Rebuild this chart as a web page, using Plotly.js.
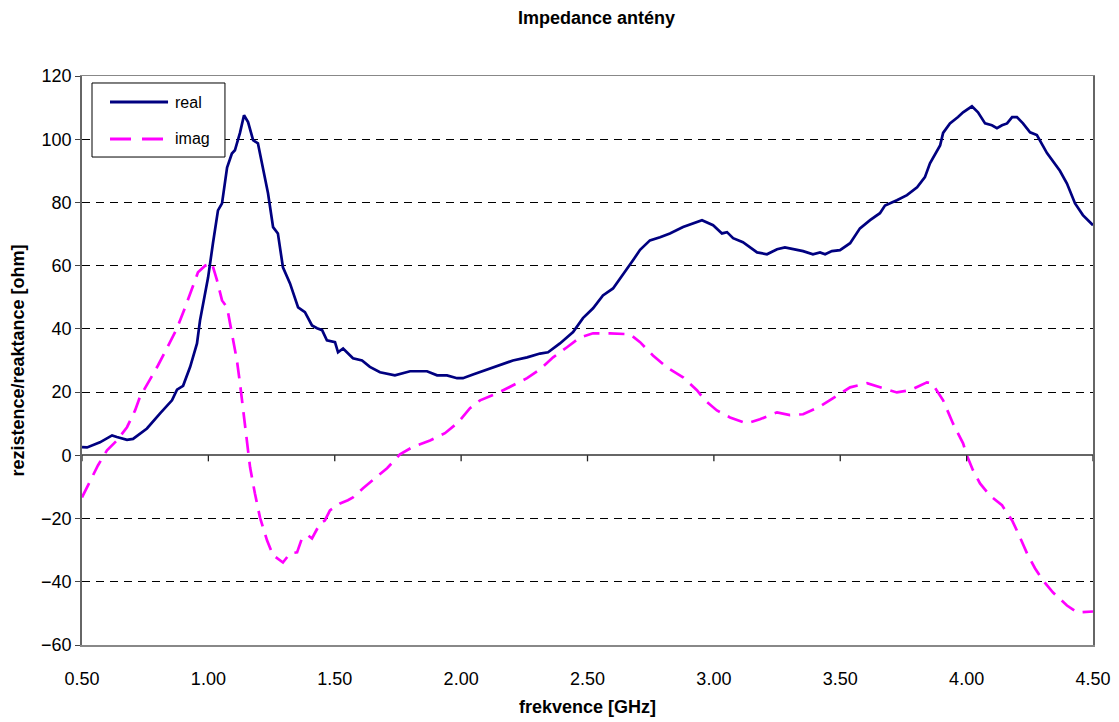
<!DOCTYPE html>
<html>
<head>
<meta charset="utf-8">
<script src="https://cdn.plot.ly/plotly-3.0.1.min.js"></script>
<style>html,body{margin:0;padding:0;background:#fff;}#chart{width:1119px;height:722px;}</style>
</head>
<body>
<div id="chart"></div>
<script>
// Frequency [GHz] and resistance (real part) [ohm]
const freqReal = [0.500,0.520,0.571,0.619,0.638,0.678,0.702,0.757,0.809,0.856,0.876,0.900,0.928,0.955,0.967,
  0.999,1.018,1.038,1.054,1.074,1.093,1.105,1.125,1.141,1.157,1.177,1.196,1.212,1.236,1.256,1.275,1.295,1.323,
  1.355,1.382,1.410,1.430,1.450,1.469,1.501,1.513,1.533,1.572,1.608,1.639,1.679,1.738,1.798,1.865,1.905,1.944,
  1.984,2.007,2.047,2.102,2.154,2.205,2.261,2.312,2.344,2.391,2.443,2.482,2.522,2.561,2.601,2.640,2.680,2.708,
  2.747,2.787,2.826,2.878,2.917,2.953,2.997,3.032,3.052,3.076,3.115,3.171,3.210,3.250,3.281,3.313,3.353,3.392,
  3.420,3.440,3.467,3.499,3.539,3.578,3.618,3.657,3.677,3.724,3.764,3.804,3.835,3.855,3.895,3.907,3.934,3.966,
  3.986,4.021,4.045,4.073,4.100,4.120,4.140,4.160,4.180,4.199,4.223,4.251,4.278,4.318,4.369,4.397,4.429,4.460,4.500];
const realPart = [2.6,2.5,4.1,6.3,5.8,4.9,5.2,8.5,13.3,17.4,20.8,22.0,28.0,35.4,42.7,
  56.3,67.0,77.5,79.7,91.0,95.5,96.5,102.0,107.6,105.4,99.7,98.7,92.4,82.9,72.2,70.2,59.5,54.4,
  46.8,45.3,41.1,40.2,39.6,36.4,35.8,32.6,33.8,30.7,30.0,28.0,26.3,25.3,26.6,26.6,25.3,25.3,
  24.4,24.4,25.6,27.2,28.5,30.0,31.0,32.2,32.6,35.4,39.0,43.4,46.5,50.6,52.8,57.0,61.7,65.0,
  68.0,69.0,70.2,72.2,73.4,74.4,72.8,70.2,70.6,68.7,67.4,64.2,63.6,65.2,65.8,65.2,64.6,63.6,
  64.2,63.6,64.6,64.9,67.1,71.8,74.4,76.6,79.0,80.7,82.3,84.8,88.0,92.4,98.0,102.0,105.0,107.0,
  108.5,110.4,108.5,105.0,104.4,103.5,104.4,105.0,107.0,107.0,105.0,102.2,101.3,95.6,90.0,86.0,79.7,76.0,72.8];

// Frequency [GHz] and reactance (imaginary part) [ohm]
const freqImag = [0.500,0.532,0.563,0.599,0.638,0.678,0.710,0.729,0.761,0.801,0.836,0.876,0.908,0.935,0.959,
  0.987,1.014,1.034,1.054,1.074,1.093,1.113,1.125,1.137,1.153,1.165,1.184,1.204,1.232,1.256,1.295,1.323,1.351,
  1.370,1.394,1.410,1.442,1.461,1.481,1.521,1.552,1.572,1.612,1.651,1.707,1.758,1.810,1.877,1.936,1.988,2.035,
  2.075,2.142,2.182,2.261,2.312,2.364,2.419,2.470,2.522,2.589,2.668,2.708,2.759,2.815,2.878,2.933,2.965,3.012,
  3.064,3.131,3.182,3.250,3.301,3.353,3.420,3.487,3.539,3.606,3.657,3.724,3.776,3.843,3.863,3.907,3.946,3.986,
  4.001,4.025,4.053,4.092,4.140,4.180,4.211,4.239,4.271,4.302,4.342,4.397,4.437,4.500];
const imagPart = [-13.3,-7.9,-3.2,1.6,4.7,8.9,14.2,18.4,22.8,28.5,33.9,40.2,46.8,52.8,57.9,
  60.0,60.8,55.4,49.0,46.8,38.6,30.0,22.8,14.2,3.8,-3.8,-12.0,-19.6,-26.9,-31.6,-33.9,-31.0,-30.7,
  -26.3,-25.3,-26.3,-21.5,-20.6,-17.4,-15.2,-14.2,-13.3,-10.4,-7.9,-4.1,0.3,2.7,4.7,7.0,10.4,14.9,
  17.4,19.6,21.2,24.4,27.2,31.0,34.2,37.3,38.6,38.6,38.3,35.8,31.6,27.8,24.7,20.6,17.4,14.2,
  12.0,10.1,11.4,13.6,12.7,13.0,15.5,19.0,21.5,22.8,21.5,19.9,20.6,23.1,22.8,17.4,10.1,3.8,
  0.0,-4.7,-8.9,-12.7,-15.8,-20.6,-25.9,-31.0,-35.8,-39.6,-43.4,-47.5,-49.7,-49.4];

const xTicks = [0.5,1.0,1.5,2.0,2.5,3.0,3.5,4.0,4.5];
const xTickText = ['0.50','1.00','1.50','2.00','2.50','3.00','3.50','4.00','4.50'];
const yTicks = [-60,-40,-20,0,20,40,60,80,100,120];
const yRange = [-60, 120];
const seriesNames = ['real','imag'];
const seriesColors = ['#000080', '#FF00FF'];
const seriesDash = ['solid', '16px,9px'];

const FONT = 'Arial, "Liberation Sans", Helvetica, sans-serif';
const PLOT_H = 722 - 76 - 77;

const traces = [
  {x: freqReal, y: realPart, name: seriesNames[0], type: 'scatter', mode: 'lines',
   line: {color: seriesColors[0], width: 2.7, dash: seriesDash[0]}},
  {x: freqImag, y: imagPart, name: seriesNames[1], type: 'scatter', mode: 'lines',
   line: {color: seriesColors[1], width: 2.7, dash: seriesDash[1]}}
];

// tick marks hanging below the zero line (Excel-style category axis crossing at 0)
const zeroFrac = (0 - yRange[0]) / (yRange[1] - yRange[0]);
const shapes = xTicks.map(t => ({
  type: 'line', xref: 'x', yref: 'paper',
  x0: t, x1: t, y0: zeroFrac, y1: zeroFrac - 6 / PLOT_H, line: {color: '#222', width: 1.3}, layer: 'above'
}));

// legend box (drawn by hand so its proportions match the original)
const legBox = {x0: 0.0099, x1: 0.1414, y0: 0.8576, y1: 0.9877};
const legRowsY = [0.9543, 0.8893];
shapes.push({type: 'rect', xref: 'paper', yref: 'paper', x0: legBox.x0, x1: legBox.x1, y0: legBox.y0, y1: legBox.y1,
  line: {color: '#000', width: 1}, fillcolor: '#ffffff', layer: 'above'});
const annotations = [];
seriesNames.forEach((name, i) => {
  shapes.push({type: 'line', xref: 'paper', yref: 'paper', x0: 0.0277, x1: 0.0851, y0: legRowsY[i], y1: legRowsY[i],
    line: {color: seriesColors[i], width: 3, dash: i === 0 ? 'solid' : '21px,11px'}, layer: 'above'});
  annotations.push({xref: 'paper', yref: 'paper', x: 0.0905, y: legRowsY[i], xanchor: 'left', yanchor: 'middle',
    text: name, showarrow: false, font: {family: FONT, size: 16, color: '#000'}});
});

const layout = {
  width: 1119, height: 722,
  paper_bgcolor: '#ffffff', plot_bgcolor: '#ffffff',
  margin: {l: 82, r: 26, t: 76, b: 77, pad: 0},
  font: {family: FONT, size: 18, color: '#000'},
  title: {text: 'Impedance antény', x: 0.509, xref: 'paper', xanchor: 'center', y: 0.975, yref: 'container', yanchor: 'middle',
          font: {family: FONT, size: 18, weight: 'bold', color: '#000'}},
  showlegend: false,
  shapes: shapes,
  annotations: annotations,
  xaxis: {range: [0.5, 4.5], tickvals: xTicks, ticktext: xTickText, showgrid: false, zeroline: false,
          showline: true, linecolor: '#888', linewidth: 1.5, mirror: true, ticks: '', ticklabelstandoff: 17,
          tickfont: {family: FONT, size: 18, color: '#000'},
          title: {text: 'frekvence [GHz]', standoff: 12, font: {family: FONT, size: 18, weight: 'bold', color: '#000'}}},
  yaxis: {range: yRange, tickvals: yTicks, showgrid: true, gridcolor: '#000', gridwidth: 1, griddash: '8px,6px',
          zeroline: true, zerolinecolor: '#666', zerolinewidth: 1.8,
          showline: true, linecolor: '#666', linewidth: 1.8, mirror: true, ticks: 'outside', ticklen: 5, tickcolor: '#444',
          tickfont: {family: FONT, size: 18, color: '#000'},
          title: {text: 'rezistence/reaktance [ohm]', standoff: 12, font: {family: FONT, size: 18, weight: 'bold', color: '#000'}}}
};

Plotly.newPlot('chart', traces, layout, {displayModeBar: false, staticPlot: true});
</script>
</body>
</html>
